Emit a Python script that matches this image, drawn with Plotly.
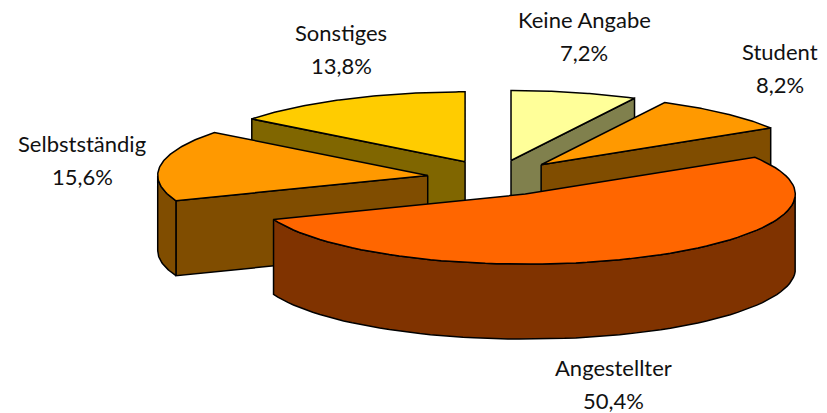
import numpy as np
import plotly.graph_objects as go

categories = ["Keine Angabe", "Student", "Angestellter", "Selbstständig", "Sonstiges"]
shares = [7.2, 8.2, 50.4, 15.6, 13.8]
share_labels = ["7,2%", "8,2%", "50,4%", "15,6%", "13,8%"]

top_colors = ["#FFFF99", "#FF9900", "#FF6600", "#FF9900", "#FFCC00"]
side_colors = ["#80804D", "#804D00", "#803300", "#804D00", "#806600"]
label_xy = [(584, 36), (780, 68), (613, 384), (82, 160), (341, 49)]
draw_order = [4, 0, 1, 3, 2]

W, H = 827, 413
CX, CY, RX, RY = 495, 178, 270, 70
EX, EY = 68, 18
DEPTH = 75
LINE = dict(color="black", width=1.5)
LINE_GAP = 16.5

sizes = np.array(shares) / sum(shares) * 2 * np.pi
starts = np.concatenate([[0], np.cumsum(sizes)[:-1]])

fig = go.Figure()


def poly(xs, ys, color):
    fig.add_trace(go.Scatter(x=list(xs), y=list(ys), mode="lines", fill="toself",
                             fillcolor=color, line=LINE, hoverinfo="skip",
                             showlegend=False))


for i in draw_order:
    a0, a1 = starts[i], starts[i] + sizes[i]
    mid = (a0 + a1) / 2
    ax = CX + EX * np.sin(mid)
    ay = CY - EY * np.cos(mid)
    t = np.linspace(a0, a1, 80)
    ex = ax + RX * np.sin(t)
    ey = ay - RY * np.cos(t)

    # radial walls, only those that face the viewer
    if np.sin(a0) < -1e-9:
        poly([ax, ex[0], ex[0], ax, ax], [ay, ey[0], ey[0] + DEPTH, ay + DEPTH, ay], side_colors[i])
    if np.sin(a1) > 1e-9:
        poly([ax, ex[-1], ex[-1], ax, ax], [ay, ey[-1], ey[-1] + DEPTH, ay + DEPTH, ay], side_colors[i])
    # outer wall on the front half
    front = np.cos(t) <= 0
    if front.any():
        fx, fy = ex[front], ey[front]
        poly(np.r_[fx, fx[::-1], fx[0]], np.r_[fy, fy[::-1] + DEPTH, fy[0]], side_colors[i])
    # top face
    poly(np.r_[ax, ex, ax], np.r_[ay, ey, ay], top_colors[i])

for name, share, (lx, ly) in zip(categories, share_labels, label_xy):
    for text, yy in ((name, ly - LINE_GAP), (share, ly + LINE_GAP)):
        fig.add_annotation(x=lx, y=yy, text=text, showarrow=False,
                           font=dict(family="Lato", size=22, color="#111111"),
                           xanchor="center", yanchor="middle")

fig.update_layout(
    width=W, height=H, margin=dict(l=0, r=0, t=0, b=0),
    paper_bgcolor="white", plot_bgcolor="white", showlegend=False,
    xaxis=dict(range=[0, W], visible=False, fixedrange=True),
    yaxis=dict(range=[H, 0], visible=False, fixedrange=True),
)
fig.write_html("out.html", config={"displayModeBar": False},
               post_script="document.body.style.margin='0';document.body.style.overflow='hidden';")
